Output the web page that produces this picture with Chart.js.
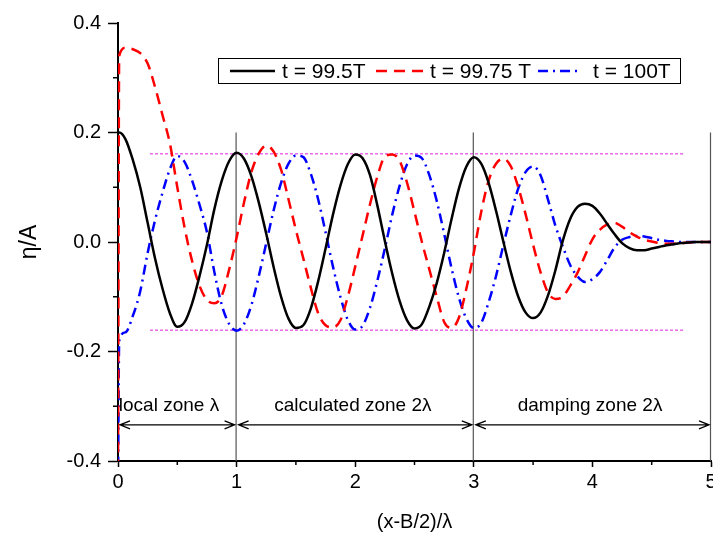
<!DOCTYPE html>
<html>
<head>
<meta charset="utf-8">
<script src="https://cdn.jsdelivr.net/npm/chart.js@4.4.1/dist/chart.umd.min.js"></script>
<style>
  html, body { margin: 0; padding: 0; background: #fff; }
  #wrap { width: 713px; height: 543px; position: relative; }
</style>
</head>
<body>
<div id="wrap"><canvas id="waveChart"></canvas></div>
<script>
// x positions of the samples, (x-B/2)/lambda
const xs = [0, 0.01,
    0.0625, 0.125, 0.1875, 0.25, 0.3125, 0.375, 0.4375, 0.5, 0.5625, 0.625, 0.6875, 0.75, 0.8125, 0.875, 0.9375, 1,
    1.0625, 1.125, 1.1875, 1.25, 1.3125, 1.375, 1.4375, 1.5, 1.5625, 1.625, 1.6875, 1.75, 1.8125, 1.875, 1.9375, 2,
    2.0625, 2.125, 2.1875, 2.25, 2.3125, 2.375, 2.4375, 2.5, 2.5625, 2.625, 2.6875, 2.75, 2.8125, 2.875, 2.9375, 3,
    3.0625, 3.125, 3.1875, 3.25, 3.3125, 3.375, 3.4375, 3.5, 3.5625, 3.625, 3.6875, 3.75, 3.8125, 3.875, 3.9375, 4,
    4.0625, 4.125, 4.1875, 4.25, 4.3125, 4.375, 4.4375, 4.5, 4.5625, 4.625, 4.6875, 4.75, 4.8125, 4.875, 4.9375, 5];

// eta/A at t = 99.5T
const etaT995 = [0.200, 0.200,
    0.188, 0.150, 0.100, 0.035, -0.030, -0.085, -0.130, -0.155, -0.146, -0.112, -0.062, -0.005, 0.060, 0.112, 0.148, 0.163,
    0.152, 0.120, 0.072, 0.015, -0.046, -0.100, -0.140, -0.157, -0.152, -0.122, -0.072, -0.012, 0.050, 0.103, 0.142, 0.160,
    0.153, 0.122, 0.066, 0.002, -0.058, -0.108, -0.143, -0.158, -0.150, -0.118, -0.075, -0.020, 0.042, 0.098, 0.138, 0.155,
    0.143, 0.108, 0.057, 0.000, -0.055, -0.100, -0.129, -0.139, -0.129, -0.098, -0.052, 0.002, 0.042, 0.064, 0.070, 0.066,
    0.052, 0.033, 0.014, -0.002, -0.011, -0.015, -0.015, -0.012, -0.009, -0.006, -0.004, -0.002, -0.001, 0, 0, 0];

// eta/A at t = 99.75T
const etaT9975 = [-0.45, 0.340,
    0.355, 0.352, 0.345, 0.326, 0.283, 0.232, 0.180, 0.100, 0.025, -0.035, -0.080, -0.106, -0.112, -0.098, -0.050, 0.008,
    0.072, 0.128, 0.162, 0.176, 0.165, 0.132, 0.078, 0.022, -0.030, -0.083, -0.130, -0.152, -0.156, -0.143, -0.100, -0.045,
    0.012, 0.069, 0.120, 0.156, 0.160, 0.148, 0.108, 0.055, 0.000, -0.050, -0.100, -0.146, -0.157, -0.138, -0.085, -0.020,
    0.055, 0.112, 0.143, 0.152, 0.138, 0.100, 0.050, -0.005, -0.055, -0.092, -0.104, -0.100, -0.080, -0.056, -0.025, 0.005,
    0.022, 0.032, 0.035, 0.028, 0.018, 0.010, 0.004, 0.001, -0.002, -0.003, -0.003, -0.002, -0.001, 0, 0, 0];

// eta/A at t = 100T
const etaT100 = [-0.45, -0.181,
    -0.165, -0.135, -0.090, -0.020, 0.040, 0.090, 0.133, 0.157, 0.146, 0.112, 0.068, 0.018, -0.055, -0.115, -0.150, -0.162,
    -0.150, -0.115, -0.062, -0.002, 0.058, 0.108, 0.143, 0.158, 0.155, 0.125, 0.078, 0.018, -0.045, -0.100, -0.142, -0.160,
    -0.153, -0.120, -0.070, -0.012, 0.050, 0.103, 0.142, 0.158, 0.153, 0.122, 0.075, 0.015, -0.048, -0.102, -0.140, -0.157,
    -0.148, -0.110, -0.062, -0.005, 0.050, 0.098, 0.128, 0.138, 0.122, 0.078, 0.030, -0.008, -0.042, -0.063, -0.073, -0.068,
    -0.055, -0.033, -0.010, 0.004, 0.009, 0.011, 0.010, 0.007, 0.004, 0.002, 0.001, 0, 0, 0, 0, 0];

const seriesLabels = ['t = 99.5T', 't = 99.75 T', 't = 100T'];

// dotted envelope lines
const envelopeX = [0.27, 4.78];
const envelopeLevel = 0.161;

// zones
const zoneEdges = [0, 1, 3, 5];
const zoneLabels = ['local zone λ', 'calculated zone 2λ', 'damping zone 2λ'];
const zoneLabelX = [0.43, 1.98, 3.98];
const zoneLabelY = -0.30;
const zoneArrowY = -0.334;
const zoneLineTop = 0.2;

const xTicks = [0, 1, 2, 3, 4, 5];
const xMinorTicks = [0.5, 1.5, 2.5, 3.5, 4.5];
const yMinorTicks = [-0.3, -0.1, 0.1, 0.3];

Chart.defaults.font.family = "'Liberation Sans', Arial, sans-serif";
Chart.defaults.color = '#000';

const toPoints = ys => xs.map((x, i) => ({ x: x, y: ys[i] }));

const zonePlugin = {
    id: 'zones',
    beforeDatasetsDraw(chart) {
        const { ctx, scales: { x, y } } = chart;
        ctx.save();
        ctx.strokeStyle = '#555';
        ctx.lineWidth = 1.2;
        zoneEdges.slice(1).forEach(v => {
            const px = x.getPixelForValue(v) - 0.5;
            ctx.beginPath();
            ctx.moveTo(px, y.getPixelForValue(zoneLineTop));
            ctx.lineTo(px, y.getPixelForValue(-0.4));
            ctx.stroke();
        });
        ctx.restore();
    },
    afterDatasetsDraw(chart) {
        const { ctx, scales: { x, y } } = chart;
        ctx.save();
        // minor ticks
        ctx.strokeStyle = '#000';
        ctx.lineWidth = 1.5;
        yMinorTicks.forEach(v => {
            const py = y.getPixelForValue(v);
            ctx.beginPath();
            ctx.moveTo(x.left - 5, py);
            ctx.lineTo(x.left, py);
            ctx.stroke();
        });
        xMinorTicks.forEach(v => {
            const px = x.getPixelForValue(v);
            ctx.beginPath();
            ctx.moveTo(px, y.bottom);
            ctx.lineTo(px, y.bottom + 4);
            ctx.stroke();
        });
        // arrows between zone edges
        const ay = y.getPixelForValue(zoneArrowY);
        ctx.lineWidth = 1.3;
        for (let i = 0; i < zoneEdges.length - 1; i++) {
            const x0 = x.getPixelForValue(zoneEdges[i]) + 2;
            const x1 = x.getPixelForValue(zoneEdges[i + 1]) - 2;
            ctx.beginPath();
            ctx.moveTo(x0, ay);
            ctx.lineTo(x1, ay);
            ctx.moveTo(x0 + 10, ay - 4);
            ctx.lineTo(x0, ay);
            ctx.lineTo(x0 + 10, ay + 4);
            ctx.moveTo(x1 - 10, ay - 4);
            ctx.lineTo(x1, ay);
            ctx.lineTo(x1 - 10, ay + 4);
            ctx.stroke();
        }
        // zone labels
        ctx.fillStyle = '#000';
        ctx.font = "19px 'Liberation Sans', Arial, sans-serif";
        ctx.textAlign = 'center';
        ctx.textBaseline = 'middle';
        zoneLabels.forEach((t, i) => {
            ctx.fillText(t, x.getPixelForValue(zoneLabelX[i]), y.getPixelForValue(zoneLabelY));
        });
        ctx.restore();
    },
    afterDraw(chart) {
        // boxed legend inside the plot
        const { ctx } = chart;
        ctx.save();
        ctx.fillStyle = '#fff';
        ctx.fillRect(218.5, 58.5, 462, 25);
        ctx.strokeStyle = '#000';
        ctx.lineWidth = 1;
        ctx.strokeRect(218.5, 58.5, 462, 25);
        const items = [[230, 275, 282], [376, 423, 430], [538, 582, 593]];
        ctx.font = "21px 'Liberation Sans', Arial, sans-serif";
        ctx.textBaseline = 'middle';
        ctx.textAlign = 'left';
        items.forEach((it, i) => {
            const ds = chart.data.datasets[i];
            ctx.strokeStyle = ds.borderColor;
            ctx.lineWidth = ds.borderWidth;
            ctx.setLineDash(ds.borderDash || []);
            ctx.beginPath();
            ctx.moveTo(it[0], 71);
            ctx.lineTo(it[1], 71);
            ctx.stroke();
            ctx.setLineDash([]);
            ctx.fillStyle = '#000';
            ctx.fillText(seriesLabels[i], it[2], 72);
        });
        ctx.restore();
    }
};

new Chart(document.getElementById('waveChart').getContext('2d'), {
    type: 'line',
    data: {
        datasets: [
            {
                label: seriesLabels[0],
                data: toPoints(etaT995),
                borderColor: '#000000',
                borderWidth: 2.5
            },
            {
                label: seriesLabels[1],
                data: toPoints(etaT9975),
                borderColor: '#ff0000',
                borderWidth: 2.5,
                borderDash: [11, 7]
            },
            {
                label: seriesLabels[2],
                data: toPoints(etaT100),
                borderColor: '#0000ff',
                borderWidth: 2.5,
                borderDash: [10, 5, 2, 5]
            },
            {
                label: 'upper envelope',
                data: envelopeX.map(v => ({ x: v, y: envelopeLevel })),
                borderColor: '#e020e0',
                borderWidth: 1,
                borderDash: [3, 2]
            },
            {
                label: 'lower envelope',
                data: envelopeX.map(v => ({ x: v, y: -envelopeLevel })),
                borderColor: '#e020e0',
                borderWidth: 1,
                borderDash: [3, 2]
            }
        ]
    },
    options: {
        responsive: true,
        maintainAspectRatio: false,
        animation: false,
        elements: {
            point: { radius: 0 },
            line: { cubicInterpolationMode: 'monotone', fill: false }
        },
        layout: { padding: { top: 23, right: 2, left: 0, bottom: 0 } },
        plugins: {
            legend: { display: false },
            tooltip: { enabled: false }
        },
        scales: {
            x: {
                type: 'linear',
                min: 0,
                max: 5,
                afterBuildTicks: s => { s.ticks = xTicks.map(v => ({ value: v })); },
                ticks: { font: { size: 20 }, color: '#000', padding: 3, maxRotation: 0 },
                grid: { drawOnChartArea: false, tickLength: 6, tickColor: '#000', tickWidth: 1.5 },
                border: { color: '#000', width: 2 },
                title: {
                    display: true,
                    text: '(x-B/2)/λ',
                    font: { size: 20 },
                    color: '#000',
                    padding: { top: 0, bottom: 9 }
                },
                afterFit: s => { s.height = 82; s.paddingLeft = 0; s.paddingRight = 0; }
            },
            y: {
                min: -0.4,
                max: 0.4,
                ticks: {
                    stepSize: 0.2,
                    font: { size: 20 },
                    color: '#000',
                    padding: 7,
                    callback: v => v.toFixed(1)
                },
                grid: { drawOnChartArea: false, tickLength: 10, tickColor: '#000', tickWidth: 1.5 },
                border: { color: '#000', width: 2 },
                title: {
                    display: true,
                    text: 'η/A',
                    font: { size: 23 },
                    color: '#000',
                    padding: { top: 16, bottom: 0 }
                },
                afterFit: s => { s.width = 118; s.paddingTop = 0; s.paddingBottom = 0; }
            }
        }
    },
    plugins: [zonePlugin]
});
</script>
</body>
</html>
